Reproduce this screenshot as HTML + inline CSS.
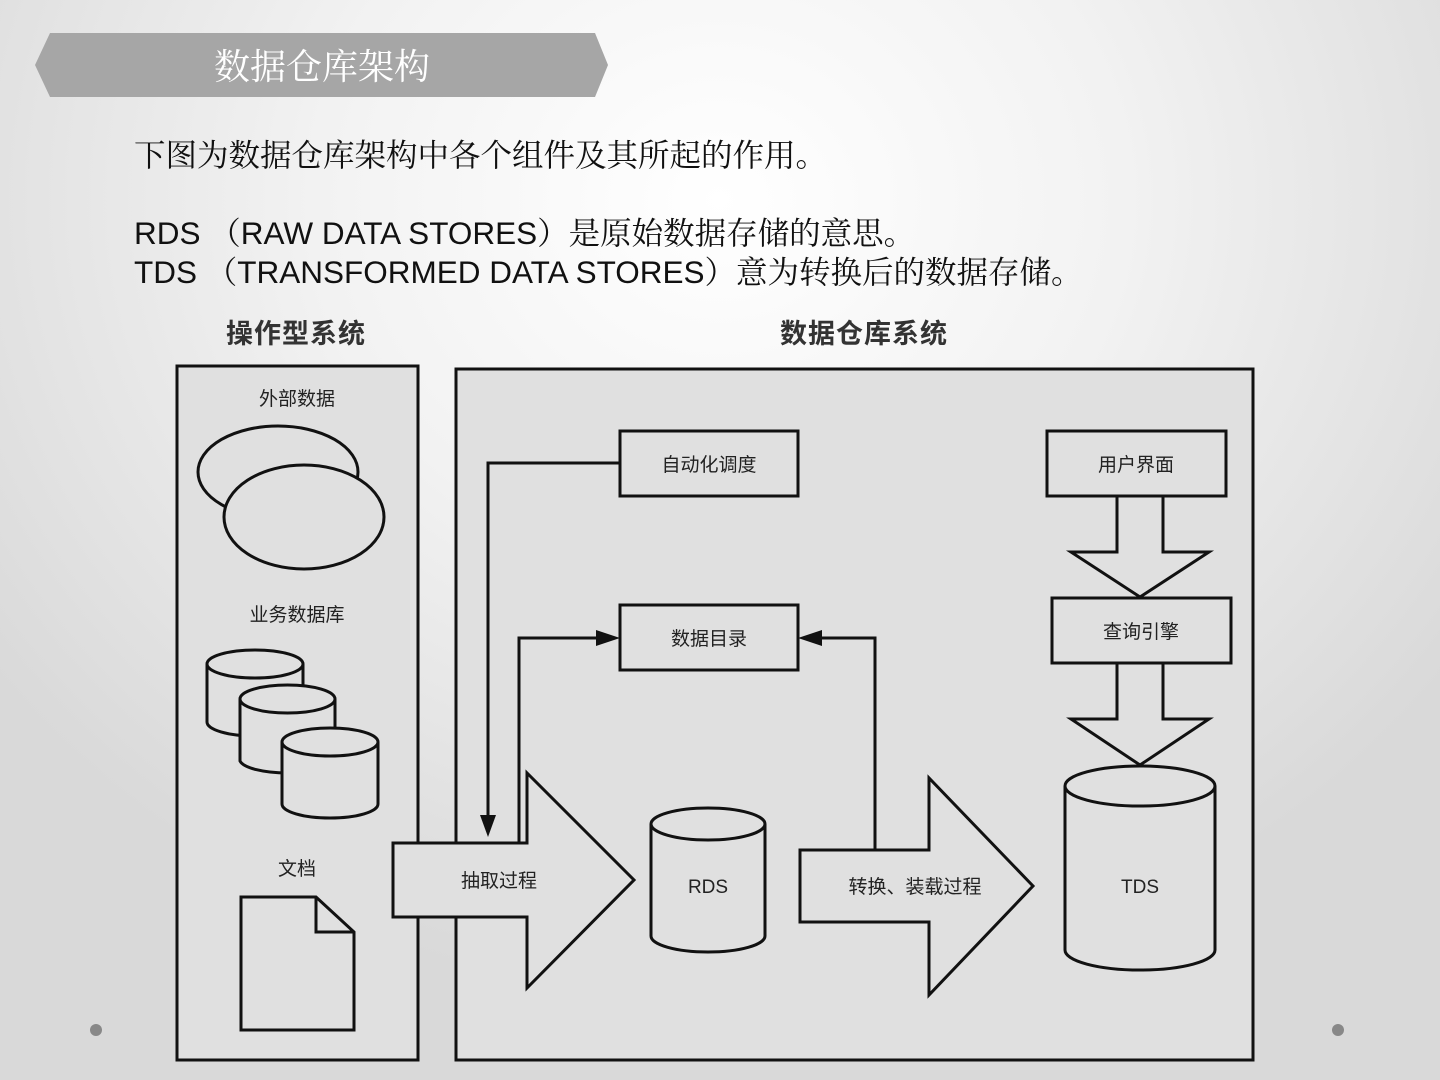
<!DOCTYPE html>
<html><head><meta charset="utf-8"><style>
body{margin:0;width:1440px;height:1080px;overflow:hidden;background:radial-gradient(ellipse 900px 800px at 720px 200px,#ffffff 0%,#f2f2f2 45%,#d9d9d9 100%);}
svg{position:absolute;left:0;top:0}
</style></head><body>
<svg width="1440" height="1080" xmlns="http://www.w3.org/2000/svg" font-family="'Liberation Sans','Noto Sans CJK SC',sans-serif">
<polygon points="35,65 50,33 595,33 608,65 595,97 50,97" fill="#a6a6a6"/>
<text x="214" y="79" font-size="36" fill="#fff" font-family="'Liberation Serif','Noto Serif CJK SC',serif">数据仓库架构</text>
<g font-family="'Liberation Sans','Noto Serif CJK SC',serif" font-size="31.5" fill="#111">
<text x="134" y="166">下图为数据仓库架构中各个组件及其所起的作用。</text>
<text x="134" y="244">RDS （RAW DATA STORES）是原始数据存储的意思。</text>
<text x="134" y="283">TDS （TRANSFORMED DATA STORES）意为转换后的数据存储。</text>
</g>
<g font-size="27" font-weight="bold" fill="#333">
<text x="226" y="343" letter-spacing="1">操作型系统</text>
<text x="780" y="343" letter-spacing="1">数据仓库系统</text>
</g>
<g stroke="#111" stroke-width="3" fill="#e0e0e0">
<rect x="177" y="366" width="241" height="694"/>
<rect x="456" y="369" width="797" height="691"/>
<ellipse cx="278" cy="472" rx="80" ry="46"/>
<ellipse cx="304" cy="517" rx="80" ry="52"/>
<path d="M207,664 v58 a48,14 0 0 0 96,0 v-58"/><ellipse cx="255" cy="664" rx="48" ry="14"/>
<path d="M240,699 v62 a48,14 0 0 0 95,0 v-62"/><ellipse cx="287.5" cy="699" rx="47.5" ry="14"/>
<path d="M282,742 v62 a48,14 0 0 0 96,0 v-62"/><ellipse cx="330" cy="742" rx="48" ry="14"/>
<polygon points="241,897 316,897 354,932 354,1030 241,1030"/>
<polyline points="316,897 316,932 354,932" fill="none"/>
<rect x="620" y="431" width="178" height="65"/>
<rect x="620" y="605" width="178" height="65"/>
<rect x="1047" y="431" width="179" height="65"/>
<rect x="1052" y="598" width="179" height="65"/>
<polygon points="1117,496 1163,496 1163,552 1209,552 1140,597 1071,552 1117,552"/>
<polygon points="1117,663 1163,663 1163,719 1209,719 1140,765 1071,719 1117,719"/>
<polyline points="620,463 488,463 488,820" fill="none"/>
<polyline points="519,845 519,638 600,638" fill="none"/>
<polyline points="875,850 875,638 818,638" fill="none"/>
<polygon points="393,843 527,843 527,773 634,880 527,988 527,917 393,917"/>
<polygon points="800,850 929,850 929,778 1033,886 929,995 929,922 800,922"/>
<path d="M651,824 v112 a57,16 0 0 0 114,0 v-112"/><ellipse cx="708" cy="824" rx="57" ry="16"/>
<path d="M1065,786 v164 a75,20 0 0 0 150,0 v-164"/><ellipse cx="1140" cy="786" rx="75" ry="20"/>
</g>
<g fill="#111">
<polygon points="480,815 496,815 488,837"/>
<polygon points="596,630 620,638 596,646"/>
<polygon points="822,630 798,638 822,646"/>
</g>
<g font-size="19" fill="#222" text-anchor="middle">
<text x="297" y="405">外部数据</text>
<text x="297" y="621">业务数据库</text>
<text x="297" y="875">文档</text>
<text x="709" y="471">自动化调度</text>
<text x="709" y="645">数据目录</text>
<text x="1136" y="471">用户界面</text>
<text x="1141" y="638">查询引擎</text>
<text x="499" y="887">抽取过程</text>
<text x="708" y="893">RDS</text>
<text x="915" y="893">转换、装载过程</text>
<text x="1140" y="893">TDS</text>
</g>
<circle cx="96" cy="1030" r="6" fill="#888"/>
<circle cx="1338" cy="1030" r="6" fill="#888"/>
</svg>
</body></html>
